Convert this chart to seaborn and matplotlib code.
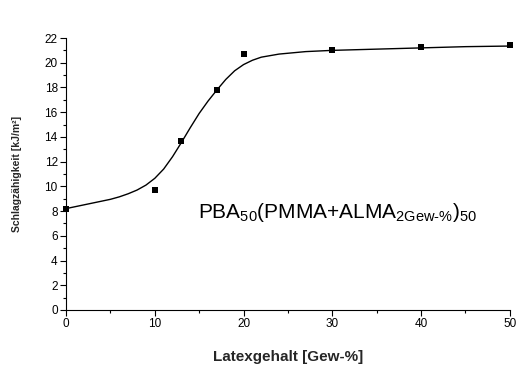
import matplotlib
matplotlib.use("Agg")
import matplotlib.pyplot as plt
from matplotlib.ticker import MultipleLocator
import seaborn as sns
import pandas as pd

# measured points
latex = [0, 10, 13, 17, 20, 30, 40, 50]
schlag = [8.2, 9.7, 13.7, 17.8, 20.7, 21.0, 21.3, 21.4]

# fitted curve
fit_x = [0, 2, 4, 5, 6, 7, 8, 9, 10, 11, 12, 13, 14, 15, 16, 17, 18, 19, 20, 21, 22, 24, 27, 30, 35, 40, 45, 50]
fit_y = [8.2, 8.5, 8.8, 8.95, 9.15, 9.4, 9.7, 10.1, 10.65, 11.4, 12.4, 13.55, 14.75, 15.9, 16.9, 17.8, 18.65, 19.35, 19.85, 20.2, 20.45, 20.7, 20.9, 21.0, 21.1, 21.2, 21.3, 21.35]

x_ticks = [0, 10, 20, 30, 40, 50]
y_ticks = [0, 2, 4, 6, 8, 10, 12, 14, 16, 18, 20, 22]

sns.set_theme(style="ticks")
plt.rcParams['font.family'] = ['Liberation Sans', 'DejaVu Sans']
plt.rcParams['mathtext.fontset'] = 'custom'
plt.rcParams['mathtext.rm'] = 'Liberation Sans'
plt.rcParams['mathtext.it'] = 'Liberation Sans'

fig = plt.figure(figsize=(5.16, 3.69), dpi=100)
ax = fig.add_axes([0.128, 0.16, 0.86, 0.737])

df_fit = pd.DataFrame({"x": fit_x, "y": fit_y})
df_pts = pd.DataFrame({"x": latex, "y": schlag})
sns.lineplot(data=df_fit, x="x", y="y", ax=ax, color="black", linewidth=1.0)
sns.scatterplot(data=df_pts, x="x", y="y", ax=ax, color="black", marker="s", s=22,
                edgecolor="black", linewidth=0, zorder=5, clip_on=False)

ax.set_xlim(0, 50)
ax.set_ylim(0, 22)
ax.set_xticks(x_ticks)
ax.set_yticks(y_ticks)
ax.xaxis.set_minor_locator(MultipleLocator(5))
ax.yaxis.set_minor_locator(MultipleLocator(1))
ax.tick_params(axis='both', which='major', direction='out', length=4, width=0.8,
               labelsize=8.5, color='black', labelcolor='black', pad=2)
ax.tick_params(axis='both', which='minor', direction='out', length=2.5, width=0.8, color='black')
for s in ['top', 'right']:
    ax.spines[s].set_visible(False)
for s in ['left', 'bottom']:
    ax.spines[s].set_color('black')
    ax.spines[s].set_linewidth(0.8)

ax.set_xlabel("Latexgehalt [Gew-%]", fontsize=11, fontweight='bold', labelpad=14)
ax.set_ylabel("Schlagzähigkeit [kJ/m²]", fontsize=7.5, fontweight='bold', labelpad=16)

ax.text(30.6, 7.9, r"PBA$_{\mathrm{50}}$(PMMA+ALMA$_{\mathrm{2Gew}\text{-}\mathrm{\%}}$)$_{\mathrm{50}}$",
        fontsize=15, ha='center', va='center', color='black')

fig.savefig("out.png", dpi=100)
